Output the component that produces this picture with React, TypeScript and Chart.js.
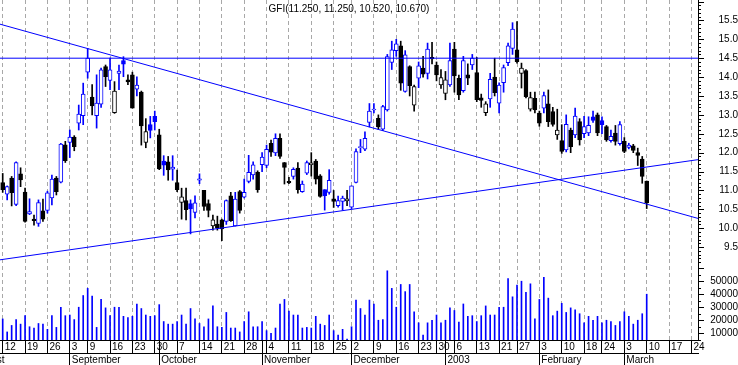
import React, { useEffect, useRef } from "react";
import { Chart, registerables } from "chart.js";

Chart.register(...registerables);

// ---- Daily candles (trading-day index 0 = 12 Aug 2002 ... 144 = 10 Mar 2003) ----
const opens = [
  11.21, 10.90, 11.33, 10.63, 11.44, 10.96, 10.38, 10.24, 10.13, 10.46,
  10.47, 10.80, 11.33, 11.22, 12.21, 12.27, 12.41, 12.78, 12.98, 14.13,
  13.47, 12.98, 13.28, 14.28, 13.91, 13.06, 14.10, 14.44, 13.93, 14.06,
  13.68, 13.60, 12.27, 12.74, 12.96, 12.47, 11.78, 11.76, 11.56, 11.21,
  10.68, 10.73, 10.65, 10.42, 11.27, 11.00, 10.65, 10.06, 10.11, 10.22,
  10.18, 10.86, 10.06, 10.97, 10.82, 11.24, 11.41, 11.48, 11.68, 11.66,
  12.25, 11.99, 12.38, 11.74, 11.24, 11.37, 11.59, 10.97, 11.46, 11.68,
  11.78, 11.39, 11.02, 10.95, 10.78, 10.60, 10.71, 10.72, 10.56, 11.21,
  12.13, 12.09, 12.80, 13.13, 12.91, 12.62, 13.13, 14.39, 14.70, 14.83,
  13.62, 14.28, 13.26, 13.97, 14.24, 14.10, 14.52, 14.32, 13.79, 13.57,
  13.79, 14.74, 13.97, 13.64, 14.06, 14.32, 14.12, 13.45, 13.06, 13.42,
  14.00, 13.31, 13.85, 14.38, 14.76, 14.72, 14.10, 14.17, 13.15, 13.44,
  13.05, 13.18, 13.29, 13.09, 12.47, 12.32, 12.07, 12.60, 12.47, 12.82,
  12.50, 12.52, 12.95, 13.00, 12.85, 12.69, 12.32, 12.52, 12.24, 12.30,
  12.14, 12.18, 12.00, 11.83, 11.25,
];
const highs = [
  11.45, 11.12, 11.37, 11.76, 11.60, 11.06, 10.78, 10.35, 10.75, 10.77,
  10.98, 11.41, 11.37, 12.25, 12.30, 12.60, 12.45, 13.26, 13.84, 14.76,
  13.80, 14.06, 14.24, 14.32, 14.50, 13.88, 14.32, 14.54, 14.06, 14.13,
  14.01, 13.63, 12.90, 12.96, 13.10, 12.62, 11.92, 11.90, 11.92, 11.54,
  11.06, 11.06, 10.75, 10.86, 11.44, 11.00, 10.75, 10.35, 10.32, 10.24,
  10.75, 10.95, 10.95, 11.00, 11.30, 11.93, 11.76, 11.52, 12.00, 12.20,
  12.33, 12.50, 12.50, 11.74, 11.35, 11.60, 11.74, 11.25, 11.78, 12.00,
  11.82, 11.42, 11.02, 11.55, 11.00, 10.85, 10.85, 11.00, 11.12, 12.10,
  12.35, 12.55, 13.30, 13.30, 13.00, 13.25, 14.60, 14.95, 15.00, 14.95,
  14.70, 14.30, 13.79, 14.40, 14.55, 14.90, 14.92, 14.40, 14.20, 14.15,
  14.90, 14.92, 14.05, 14.55, 14.35, 14.60, 14.52, 13.55, 13.35, 14.10,
  14.50, 13.85, 14.32, 14.90, 15.44, 15.47, 14.37, 14.20, 13.60, 13.60,
  13.10, 13.60, 13.66, 13.20, 13.15, 12.74, 13.00, 12.65, 13.18, 12.90,
  12.96, 12.95, 13.10, 13.05, 12.95, 12.72, 12.60, 12.72, 12.82, 12.40,
  12.25, 12.22, 12.12, 11.90, 11.25,
];
const lows = [
  10.95, 10.75, 10.59, 10.60, 11.10, 10.16, 10.36, 10.08, 10.05, 10.18,
  10.40, 10.62, 10.88, 11.20, 11.74, 11.87, 12.05, 12.60, 12.74, 13.97,
  13.00, 12.65, 13.20, 13.75, 13.67, 13.04, 13.67, 14.01, 13.80, 13.18,
  13.50, 12.20, 12.13, 12.39, 12.60, 11.55, 11.40, 11.27, 11.27, 10.97,
  10.24, 10.22, 9.85, 10.27, 11.18, 10.47, 10.30, 9.95, 9.95, 9.67,
  10.10, 10.18, 10.06, 10.40, 10.80, 11.20, 11.30, 10.95, 11.50, 11.60,
  11.90, 11.92, 11.85, 11.17, 11.18, 11.30, 10.93, 10.95, 11.42, 11.38,
  11.17, 10.82, 10.48, 10.90, 10.55, 10.56, 10.48, 10.60, 10.52, 11.20,
  12.00, 12.05, 12.68, 13.05, 12.62, 12.58, 13.10, 14.20, 14.55, 13.65,
  13.60, 13.50, 13.10, 13.72, 14.00, 13.95, 14.35, 13.90, 13.70, 13.40,
  13.75, 13.60, 13.40, 13.60, 13.80, 14.20, 13.35, 13.20, 12.98, 13.20,
  13.50, 13.05, 13.60, 14.30, 14.60, 14.37, 13.71, 13.45, 13.10, 13.05,
  12.70, 13.05, 12.69, 12.70, 12.35, 11.98, 12.02, 12.00, 12.40, 12.20,
  12.40, 12.45, 12.80, 12.45, 12.50, 12.30, 12.28, 12.20, 12.20, 12.00,
  12.10, 12.00, 11.66, 11.19, 10.52,
];
const closes = [
  11.02, 11.10, 10.94, 11.74, 11.28, 10.18, 10.44, 10.20, 10.68, 10.24,
  10.94, 11.30, 10.97, 12.23, 11.79, 12.41, 12.16, 13.02, 13.55, 14.50,
  13.24, 13.31, 14.19, 14.01, 14.19, 13.63, 14.16, 14.34, 13.87, 13.18,
  13.79, 12.71, 12.56, 12.59, 12.82, 11.57, 11.67, 11.54, 11.62, 11.02,
  10.83, 10.49, 10.51, 10.67, 11.31, 10.58, 10.47, 10.22, 10.00, 9.98,
  10.73, 10.20, 10.77, 10.47, 10.95, 11.48, 11.68, 11.02, 11.88, 12.09,
  12.01, 12.38, 11.90, 11.61, 11.20, 11.56, 11.02, 11.17, 11.74, 11.73,
  11.30, 10.84, 10.86, 11.27, 10.71, 10.73, 10.80, 10.78, 11.12, 12.03,
  12.16, 12.38, 13.10, 13.15, 12.68, 13.22, 14.54, 14.72, 14.88, 13.84,
  14.59, 13.77, 13.75, 14.30, 14.08, 14.74, 14.48, 14.06, 13.99, 13.93,
  14.44, 14.03, 13.53, 14.44, 13.97, 14.50, 13.40, 13.38, 13.29, 13.94,
  13.59, 13.79, 14.25, 14.83, 15.27, 14.41, 14.24, 13.48, 13.46, 13.13,
  12.78, 13.51, 12.82, 12.75, 12.60, 12.03, 12.75, 12.16, 12.97, 12.34,
  12.69, 12.72, 12.85, 12.52, 12.74, 12.34, 12.43, 12.30, 12.74, 12.03,
  12.20, 12.06, 11.93, 11.37, 10.67,
];
const volumes = [
  21000, 11000, 16000, 20500, 17000, 23500, 15000, 14000, 17500, 17000,
  13000, 23500, 14500, 30000, 23500, 24000, 20500, 30000, 39000, 44500,
  38500, 14500, 36000, 29500, 23500, 30000, 30000, 23000, 22000, 23000,
  32500, 29000, 24000, 23000, 23500, 32000, 19000, 17000, 17000, 19000,
  24000, 17000, 29000, 21000, 17500, 15000, 21000, 31000, 15000, 14500,
  26000, 14000, 14000, 11000, 19000, 26500, 15000, 15000, 19000, 12000,
  10000, 14000, 32500, 36000, 27000, 24000, 24000, 14000, 14500, 14000,
  23000, 17000, 16000, 24000, 12000, 8500, 13000, 5500, 15000, 35500,
  29000, 24000, 35500, 32500, 20000, 20500, 58000, 44500, 30000, 47500,
  42000, 47500, 26500, 18000, 8500, 18000, 20000, 24000, 18000, 20000,
  29500, 27500, 18500, 32500, 23000, 23500, 19000, 23500, 31000, 24000,
  24000, 30000, 30000, 52000, 38000, 47000, 50000, 41500, 48000, 21000,
  36000, 53000, 37000, 23500, 27000, 33000, 26000, 29500, 28000, 25000,
  18000, 23000, 20000, 23000, 18000, 20000, 19000, 16000, 19000, 26500,
  23000, 17000, 20000, 25000, 40000,
];

// ---- Date axis (trading-day index of each week start / month start) ----
const weekTickIndex = [0, 5, 10, 15, 19, 24, 29, 34, 39, 44, 49, 54, 59, 64, 69, 74, 78, 83, 88, 93, 97, 101, 106, 111, 115, 120, 125, 130, 134, 139, 144, 149, 154];
const weekTickLabels = ["12", "19", "26", "3", "9", "16", "23", "30", "7", "14", "21", "28", "4", "11", "18", "25", "2", "9", "16", "23", "30", "6", "13", "21", "27", "3", "10", "18", "24", "3", "10", "17", "24"];
const monthTickIndex = [-7, 15, 35, 58, 78, 99, 120, 139];
const monthTickLabels = ["August", "September", "October", "November", "December", "2003", "February", "March"];

// ---- Scale ranges ----
const X_MIN = -0.604;
const X_MAX = 155.47;
const PRICE_MIN = 9.08;
const PRICE_MAX = 16.04;
const VOL_MIN = 4800;
const VOL_MAX = 64000;

// ---- Trend lines (endpoints in index / price units) ----
const trendLineX = [X_MIN, X_MAX];
const resistanceLine = [14.5, 14.5];
const downTrendLine = [15.4, 10.26];
const upTrendLine = [9.164, 11.815];

const BLUE = "#0000ff";
const BLACK = "#000000";
const WHITE = "#ffffff";
const GRID = "#a8a8a8";
const FONT = { family: "'Liberation Sans', Arial, Helvetica, sans-serif", size: 10, weight: "normal" as const };

const idx = closes.map((_, i) => i);
const lineColor = idx.map((i) => (i > 0 && closes[i] > closes[i - 1] ? BLUE : BLACK));
const fillColor = idx.map((i) => (closes[i] > opens[i] ? WHITE : lineColor[i]));

const last = closes.length - 1;
const titleText = `GFI(${opens[last].toFixed(3)}, ${highs[last].toFixed(3)}, ${lows[last].toFixed(3)}, ${closes[last].toFixed(3)})`;

const weekLabelMap = new Map<number, string>(weekTickIndex.map((v, k) => [v, weekTickLabels[k]]));
const monthLabelMap = new Map<number, string>(monthTickIndex.map((v, k) => [v, monthTickLabels[k]]));
const weekSet = new Set<number>(weekTickIndex);
const weekRowTicks = Array.from(new Set<number>([...weekTickIndex, ...monthTickIndex.filter((v) => v >= X_MIN)])).sort((a, b) => a - b);

const priceTicks: number[] = [];
for (let k = Math.ceil(PRICE_MIN * 10); k <= Math.floor(PRICE_MAX * 10); k++) priceTicks.push(k / 10);
const volTicks: number[] = [];
for (let v = 5000; v < VOL_MAX; v += 5000) volTicks.push(v);

const isMajorPrice = (v: number) => Math.abs(v * 2 - Math.round(v * 2)) < 1e-6;

const noPad = (s: any) => {
  s.paddingLeft = 0;
  s.paddingRight = 0;
  s.paddingTop = 0;
  s.paddingBottom = 0;
};

const axisTicksPlugin = {
  id: "axisTicks",
  afterDraw(chart: any) {
    const ctx = chart.ctx;
    ctx.save();
    ctx.strokeStyle = BLACK;
    ctx.lineWidth = 1;
    for (const id of ["y", "yv"]) {
      const s = chart.scales[id];
      for (const t of s.ticks) {
        const py = Math.round(s.getPixelForValue(t.value)) + 0.5;
        const major = id === "y" ? isMajorPrice(t.value) : t.value % 10000 === 0;
        const len = major ? 6 : 3;
        ctx.beginPath();
        ctx.moveTo(s.left, py);
        ctx.lineTo(s.left + len, py);
        ctx.stroke();
      }
    }
    ctx.restore();
  },
};

export default function App() {
  const ref = useRef<HTMLCanvasElement>(null);

  useEffect(() => {
    document.body.style.margin = "0";
    const canvas = ref.current;
    if (!canvas) return;

    const chart = new Chart(canvas, {
      type: "bar",
      data: {
        datasets: [
          {
            type: "line",
            label: "resistance",
            xAxisID: "x",
            yAxisID: "y",
            data: trendLineX.map((x, k) => ({ x, y: resistanceLine[k] })),
            borderColor: BLUE,
            borderWidth: 1,
            pointRadius: 0,
            order: 0,
          },
          {
            type: "line",
            label: "down trend",
            xAxisID: "x",
            yAxisID: "y",
            data: trendLineX.map((x, k) => ({ x, y: downTrendLine[k] })),
            borderColor: BLUE,
            borderWidth: 1,
            pointRadius: 0,
            order: 0,
          },
          {
            type: "line",
            label: "up trend",
            xAxisID: "x",
            yAxisID: "y",
            data: trendLineX.map((x, k) => ({ x, y: upTrendLine[k] })),
            borderColor: BLUE,
            borderWidth: 1,
            pointRadius: 0,
            order: 0,
          },
          {
            type: "bar",
            label: "body",
            xAxisID: "x",
            yAxisID: "y",
            data: idx.map((i) => ({ x: i, y: [opens[i], closes[i]] })),
            backgroundColor: fillColor,
            borderColor: lineColor,
            borderWidth: 1,
            borderSkipped: false,
            barThickness: 4,
            minBarLength: 1,
            grouped: false,
            order: 1,
          },
          {
            type: "bar",
            label: "wick",
            xAxisID: "x",
            yAxisID: "y",
            data: idx.map((i) => ({ x: i, y: [lows[i], highs[i]] })),
            backgroundColor: lineColor,
            borderWidth: 0,
            barThickness: 1,
            grouped: false,
            order: 2,
          },
          {
            type: "bar",
            label: "volume",
            xAxisID: "x",
            yAxisID: "yv",
            data: idx.map((i) => ({ x: i, y: volumes[i] })),
            backgroundColor: BLUE,
            borderWidth: 0,
            barThickness: 1,
            grouped: false,
            order: 3,
          },
        ] as any,
      },
      options: {
        responsive: false,
        animation: false,
        events: [],
        layout: { padding: 0 },
        plugins: {
          legend: { display: false },
          tooltip: { enabled: false },
          title: {
            display: true,
            text: titleText,
            position: "top",
            fullSize: false,
            align: "center",
            color: BLACK,
            font: FONT,
            padding: { top: 3, bottom: -15 },
          },
        },
        scales: {
          x: {
            type: "linear",
            axis: "x",
            position: "bottom",
            weight: 0,
            min: X_MIN,
            max: X_MAX,
            offset: false,
            afterBuildTicks: (s: any) => {
              s.ticks = weekRowTicks.map((v) => ({ value: v }));
            },
            afterFit: (s: any) => {
              s.height = 13;
              noPad(s);
            },
            grid: {
              offset: false,
              color: (c: any) => (c.tick && weekSet.has(c.tick.value) ? GRID : "rgba(0,0,0,0)"),
              lineWidth: 1,
              drawOnChartArea: true,
              drawTicks: true,
              tickLength: 13,
              tickColor: BLACK,
              tickWidth: 1,
            },
            border: { display: true, color: BLACK, width: 1, dash: [4, 3] },
            ticks: {
              autoSkip: false,
              maxRotation: 0,
              minRotation: 0,
              align: "start",
              labelOffset: 2,
              padding: -12,
              color: BLACK,
              font: FONT,
              callback: (v: any) => weekLabelMap.get(Number(v)) ?? "",
            },
          },
          x2: {
            type: "linear",
            axis: "x",
            position: "bottom",
            weight: 1,
            min: X_MIN,
            max: X_MAX,
            offset: false,
            afterBuildTicks: (s: any) => {
              s.ticks = monthTickIndex.map((v) => ({ value: v }));
            },
            afterFit: (s: any) => {
              s.height = 12;
              noPad(s);
            },
            grid: {
              offset: false,
              drawOnChartArea: false,
              drawTicks: true,
              tickLength: 12,
              tickColor: BLACK,
              tickWidth: 1,
              color: BLACK,
            },
            border: { display: true, color: BLACK, width: 1 },
            ticks: {
              autoSkip: false,
              maxRotation: 0,
              minRotation: 0,
              align: "start",
              labelOffset: 2,
              padding: -11,
              color: BLACK,
              font: FONT,
              callback: (v: any) => monthLabelMap.get(Number(v)) ?? "",
            },
          },
          y: {
            type: "linear",
            axis: "y",
            position: "right",
            stack: "panels",
            stackWeight: 263,
            weight: 1,
            min: PRICE_MIN,
            max: PRICE_MAX,
            afterBuildTicks: (s: any) => {
              s.ticks = priceTicks.map((v) => ({ value: v }));
            },
            afterFit: (s: any) => {
              s.width = 40;
              noPad(s);
            },
            grid: { drawOnChartArea: false, drawTicks: false },
            border: { display: true, color: BLACK, width: 1 },
            ticks: {
              autoSkip: false,
              padding: 9,
              crossAlign: "far",
              color: BLACK,
              font: FONT,
              callback: (v: any) => {
                const n = Number(v);
                return isMajorPrice(n) && n >= 9.5 && n <= 15.5 ? n.toFixed(1) : "";
              },
            },
          },
          yv: {
            type: "linear",
            axis: "y",
            position: "right",
            stack: "panels",
            stackWeight: 77,
            weight: 2,
            min: VOL_MIN,
            max: VOL_MAX,
            afterBuildTicks: (s: any) => {
              s.ticks = volTicks.map((v) => ({ value: v }));
            },
            afterFit: (s: any) => {
              s.width = 40;
              noPad(s);
            },
            grid: { drawOnChartArea: false, drawTicks: false },
            border: { display: true, color: BLACK, width: 1 },
            ticks: {
              autoSkip: false,
              padding: 9,
              crossAlign: "far",
              color: BLACK,
              font: FONT,
              callback: (v: any) => {
                const n = Number(v);
                return n % 10000 === 0 && n <= 50000 ? String(n) : "";
              },
            },
          },
        },
      } as any,
      plugins: [axisTicksPlugin],
    });

    return () => chart.destroy();
  }, []);

  return (
    <div style={{ width: 738, height: 365, position: "relative", background: WHITE }}>
      <canvas ref={ref} width={738} height={365} style={{ display: "block", width: 738, height: 365 }} />
    </div>
  );
}
